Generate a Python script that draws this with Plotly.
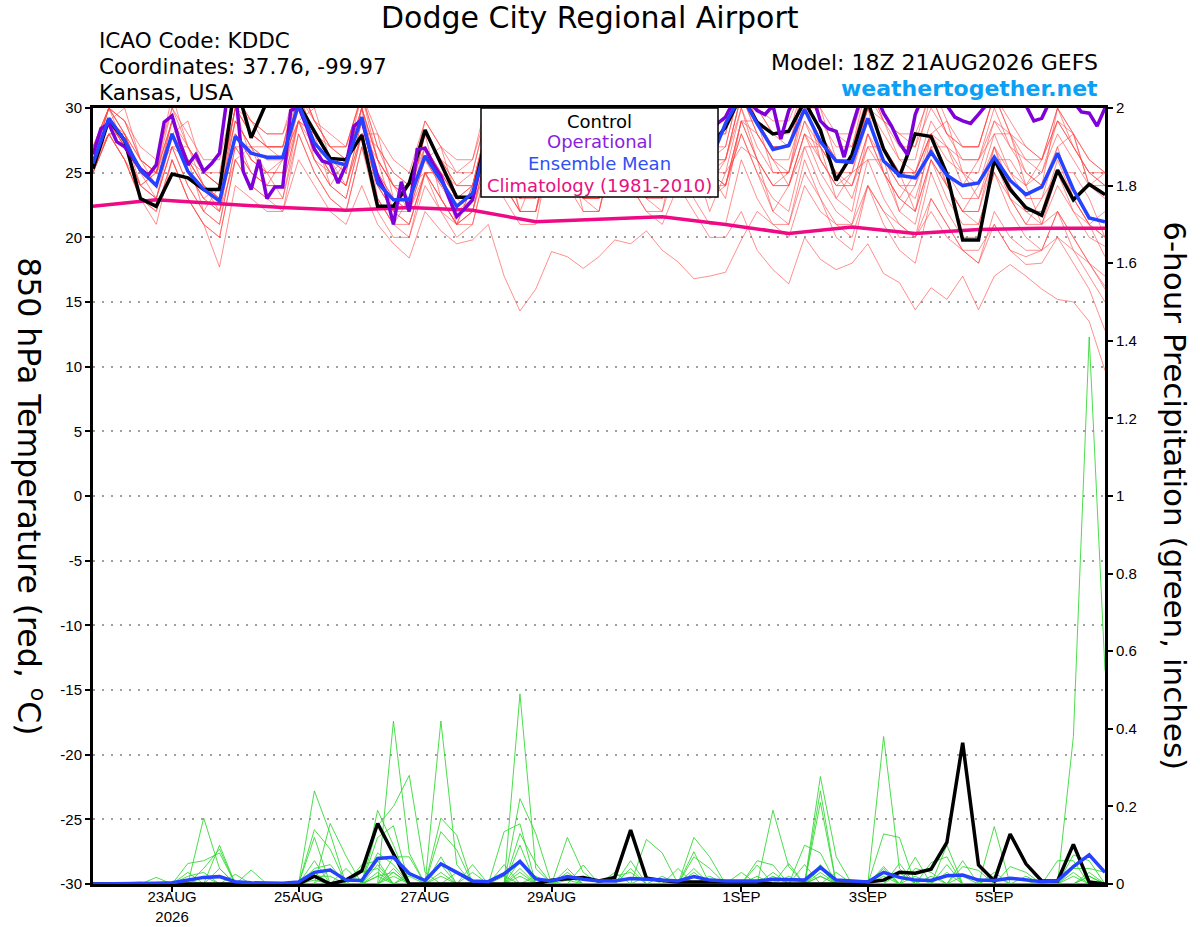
import plotly.graph_objects as go
import pandas as pd

# GEFS run 18Z 21AUG2026, 6-hourly out to 384 h
run_start = '2026-08-21 18:00'
times = pd.date_range(run_start, periods=65, freq='6h')
times_3h = pd.date_range(run_start, periods=129, freq='3h')
times_clim = pd.date_range(run_start, periods=17, freq='24h')

tick_dates = ['2026-08-23', '2026-08-25', '2026-08-27', '2026-08-29', '2026-09-01', '2026-09-03', '2026-09-05']
tick_labels = ['23AUG<br>2026', '25AUG', '27AUG', '29AUG', '1SEP', '3SEP', '5SEP']

#%% 850 hPa temperature (C)
control_t = [25.3, 29.1, 27.5, 23.0, 22.4, 24.9, 24.6, 23.7, 23.7, 32.0, 27.7, 30.5, 31.0,
             30.3, 28.2, 26.1, 26.0, 27.9, 22.4, 22.4, 24.2, 28.3, 25.7, 23.1, 23.1, 28.5,
             26.0, 25.0, 25.5, 29.5, 27.0, 26.0, 26.0, 29.0, 27.5, 26.0, 26.5, 29.5, 28.0,
             27.0, 28.5, 31.0, 28.9, 28.0, 28.2, 30.5, 28.3, 24.4, 26.4, 30.5, 26.8, 24.7,
             28.0, 27.8, 24.9, 19.8, 19.8, 26.0, 23.7, 22.3, 21.7, 25.2, 22.9, 24.1, 23.3]

mean_t = [25.7, 29.2, 27.5, 25.2, 24.0, 28.0, 25.1, 23.7, 22.8, 27.8, 26.5, 26.2, 26.2,
          30.3, 27.3, 25.9, 25.6, 29.3, 24.2, 22.9, 22.9, 26.3, 24.4, 22.4, 23.4, 27.5,
          25.5, 24.5, 24.8, 28.5, 26.5, 25.0, 25.2, 29.0, 27.0, 25.5, 25.5, 29.0, 27.0,
          25.8, 28.8, 31.0, 28.8, 26.8, 27.1, 29.9, 27.4, 25.9, 25.8, 29.2, 25.9, 24.8,
          24.6, 26.6, 24.8, 24.0, 24.2, 26.2, 24.4, 23.3, 23.9, 26.5, 23.7, 21.5, 21.2]

# operational run is 3-hourly
oper_t = [26.4, 28.4, 28.8, 27.4, 27.0, 26.1, 25.3, 24.8, 25.6, 28.9, 29.4, 27.3, 25.6, 26.4, 25.1, 25.7,
          26.5, 31.0, 31.5, 25.1, 23.7, 26.0, 23.0, 23.9, 23.9, 29.8, 30.1, 28.6, 26.8, 25.9, 25.7, 24.2,
          25.6, 28.6, 29.1, 26.8, 24.7, 23.5, 21.0, 24.3, 22.0, 26.8, 26.9, 25.7, 24.7, 23.1, 21.6, 22.2,
          22.9, 25.5, 28.0, 29.5, 29.0, 27.5, 26.0, 25.5, 25.0, 27.0, 29.5, 30.0, 29.0, 27.5, 26.5, 26.0,
          25.5, 27.5, 30.0, 30.5, 29.5, 28.0, 27.0, 26.5, 26.0, 28.0, 30.0, 30.5, 29.5, 28.5, 28.0, 28.8,
          29.3, 30.5, 31.0, 30.5, 29.8, 29.5, 30.2, 27.6, 29.8, 31.0, 31.5, 31.0, 29.0, 28.4, 28.2, 26.2,
          28.5, 30.5, 31.0, 31.0, 29.6, 28.6, 27.3, 26.4, 29.5, 31.0, 31.5, 31.0, 30.2, 29.3, 29.0, 28.8,
          29.5, 30.2, 31.0, 31.5, 31.5, 31.0, 30.2, 29.0, 29.2, 30.5, 31.0, 31.0, 30.5, 29.7, 29.6, 28.6,
          30.0]

clim_t = [22.4, 22.9, 22.6, 22.3, 22.1, 22.3, 22.1, 21.2, 21.4, 21.6, 21.0, 20.3, 20.8, 20.3, 20.6, 20.7, 20.7]

members_t = [
    [26, 30, 28, 25, 24, 29, 26, 24, 23, 29, 27, 26, 26, 31, 28, 26, 25, 30, 25, 23, 22, 27, 25, 23, 24, 29, 26, 24, 24, 30, 27, 25, 24,
     31, 28, 26, 26, 31, 28, 26, 27, 32, 29, 27, 27, 31, 28, 26, 26, 30, 27, 25, 25, 28, 26, 25, 24, 28, 25, 24, 25, 28, 26, 24, 23],
    [25, 28, 26, 23, 22, 26, 23, 21, 20, 26, 24, 23, 22, 28, 25, 23, 22, 27, 23, 21, 20, 25, 22, 21, 21, 26, 23, 21, 21, 27, 24, 22, 22,
     28, 25, 23, 22, 28, 25, 23, 24, 28, 25, 22, 21, 26, 23, 20, 19, 24, 21, 19, 18, 23, 21, 19, 18, 22, 20, 19, 19, 22, 20, 18, 17],
    [27, 30, 29, 26, 25, 31, 27, 25, 24, 30, 28, 27, 27, 32, 29, 27, 26, 31, 26, 24, 23, 28, 26, 24, 25, 30, 27, 25, 25, 31, 28, 26, 26,
     32, 29, 27, 27, 33, 30, 28, 28, 33, 30, 28, 27, 32, 29, 27, 27, 32, 29, 28, 28, 31, 28, 27, 27, 31, 28, 26, 26, 30, 27, 25, 24],
    [25.5, 28, 26, 23, 22, 26, 23, 21, 17.7, 24, 23, 22, 22, 26, 24, 22, 21, 24, 21, 19.5, 18.4, 22, 20.5, 19.5, 19.8, 21, 17, 14.3, 16,
     18.9, 18.5, 17.6, 18.5, 19.8, 19.5, 20.5, 19, 18.1, 16.8, 17, 17.3, 19.8, 22, 21, 20, 24, 22, 21, 21, 24, 22, 21, 20,
     22, 20, 19, 19, 21, 19, 18.5, 19, 20, 18, 16, 12.8],
    [26, 29, 28, 26, 25, 28, 26, 25, 24, 29, 27, 27, 27, 30, 28, 27, 26, 30, 26, 24, 24, 27, 25, 24, 24, 28, 26, 25, 25, 29, 27, 26, 26,
     30, 27, 26, 25, 29, 27, 25, 24, 29, 26, 24, 24, 28, 26, 24, 24, 28, 25, 23, 22, 26, 24, 22, 21, 25, 23, 22, 22, 26, 23, 21, 20],
    [26, 29, 27, 25, 24, 28, 25, 23, 22, 28, 26, 25, 25, 29, 27, 25, 24, 28, 24, 22, 21, 25, 23, 21, 22, 26, 24, 22, 22, 27, 25, 23, 23,
     26, 24, 22, 21, 24, 22, 20, 20, 22, 19, 17.5, 16.4, 20, 18.3, 17.5, 18, 19.5, 17.2, 16.5, 14.4, 16.1, 15.2, 17, 14.4,
     17, 17.9, 17, 16, 15.2, 15, 13.5, 9.7],
    [25, 29, 27, 24, 23, 28, 25, 23, 22, 28, 25, 24, 24, 31, 27, 25, 24, 29, 24, 22, 22, 26, 24, 22, 23, 28, 25, 23, 24, 29, 26, 24, 25,
     30, 27, 25, 25, 30, 27, 25, 26, 31, 28, 26, 26, 30, 27, 25, 25, 29, 26, 24, 23, 27, 24, 22, 22, 26, 24, 22, 22, 25, 23, 21, 18.5],
    [27, 30, 28, 26, 25, 29, 27, 25, 24, 30, 28, 27, 27, 32, 29, 27, 27, 31, 27, 25, 24, 28, 26, 25, 25, 30, 28, 26, 26, 31, 28, 27, 27,
     32, 29, 27, 27, 32, 29, 28, 28, 33, 30, 28, 28, 32, 29, 28, 27, 31, 29, 27, 27, 30, 28, 26, 26, 30, 27, 26, 25, 29, 27, 25, 25],
    [25, 28, 26, 23, 21, 26, 23, 21, 20, 26, 24, 23, 23, 28, 25, 23, 22, 27, 22, 20, 20, 24, 22, 20, 21, 26, 24, 22, 22, 28, 25, 23, 23,
     29, 26, 24, 24, 30, 27, 25, 25, 30, 27, 25, 25, 29, 27, 25, 24, 28, 26, 24, 24, 28, 25, 23, 23, 27, 25, 23, 23, 25, 22, 20, 19.3],
    [26, 29, 30, 26, 24, 28, 29, 25, 24, 30, 29, 27, 26, 29, 30, 26, 26, 28, 28, 23, 23, 26, 27, 23, 23, 25, 27, 22, 22, 26, 27, 22, 22,
     27, 28, 23, 23, 27, 28, 24, 24, 29, 29, 25, 25, 30, 30, 26, 26, 30, 29, 26, 25, 28, 29, 25, 25, 29, 28, 25, 24, 27, 28, 24, 24],
    [26, 29, 27, 24, 23, 27, 24, 22, 21, 27, 25, 24, 24, 29, 26, 24, 23, 28, 24, 22, 21, 25, 23, 21, 22, 27, 25, 23, 23, 28, 25, 23, 24,
     29, 26, 24, 24, 29, 27, 25, 24, 28, 25, 23, 22, 27, 24, 22, 21, 26, 23, 21, 20, 25, 22, 20, 20, 26, 23, 21, 21, 22, 20, 18, 16.2],
    [26, 30, 29, 26, 25, 30, 27, 25, 25, 31, 29, 28, 28, 32, 29, 27, 27, 31, 27, 25, 24, 29, 27, 25, 26, 30, 27, 26, 26, 31, 28, 27, 27,
     31, 28, 27, 27, 32, 29, 27, 27, 32, 29, 27, 27, 31, 28, 26, 26, 30, 28, 26, 26, 31, 28, 27, 27, 31, 29, 27, 26, 29, 27, 25, 24],
    [25, 28, 28, 24, 25, 27, 26, 22, 24, 27, 27, 24, 26, 29, 28, 24, 26, 28, 26, 22, 24, 25, 25, 21, 24, 26, 26, 22, 25, 27, 27, 23, 25,
     28, 27, 23, 25, 26, 26, 22, 25, 27, 26, 22, 24, 27, 27, 23, 25, 26, 26, 22, 24, 27, 27, 24, 26, 28, 28, 24, 26, 29, 28, 24, 25],
    [26, 29, 27, 25, 25, 29, 26, 24, 23, 29, 27, 26, 26, 30, 28, 26, 25, 30, 26, 24, 23, 27, 25, 23, 24, 29, 26, 24, 24, 30, 27, 25, 25,
     30, 28, 26, 26, 31, 28, 26, 26, 31, 28, 26, 25, 29, 26, 24, 24, 27, 25, 23, 22, 26, 24, 22, 22, 27, 24, 22, 21, 24, 22, 21, 20],
    [26, 28, 26, 24, 23, 27, 24, 22, 21, 27, 25, 24, 24, 29, 26, 24, 23, 28, 23, 21, 21, 25, 23, 21, 22, 27, 24, 22, 22, 28, 25, 23, 22,
     27, 24, 22, 22, 26, 23, 21, 21, 26, 23, 21, 21, 25, 23, 21, 20, 24, 22, 20, 20, 23, 21, 19, 18, 21, 19, 17.9, 18, 20, 19, 18, 16],
    [27, 30, 28, 25, 24, 29, 26, 24, 23, 30, 28, 27, 27, 31, 28, 26, 26, 30, 26, 24, 23, 28, 26, 24, 24, 29, 27, 25, 25, 30, 27, 25, 25,
     30, 27, 26, 26, 31, 28, 26, 26, 31, 29, 27, 27, 31, 28, 26, 26, 30, 27, 25, 25, 29, 27, 26, 26, 29, 27, 25, 24, 30, 28, 26, 25],
    [25, 28, 28, 25, 23, 27, 27, 24, 22, 26, 27, 25, 23, 29, 28, 26, 24, 28, 27, 24, 22, 25, 25, 23, 22, 27, 26, 24, 23, 28, 27, 25, 23,
     27, 27, 25, 23, 28, 27, 25, 23, 29, 28, 26, 24, 28, 27, 25, 23, 27, 27, 25, 22, 28, 27, 25, 23, 26, 26, 24, 21, 25, 25, 23, 20],
    [26, 30, 29, 27, 26, 30, 28, 26, 26, 31, 29, 28, 28, 31, 29, 28, 27, 31, 28, 26, 25, 29, 27, 26, 26, 31, 28, 27, 27, 32, 29, 28, 28,
     32, 30, 28, 28, 33, 30, 29, 29, 33, 30, 29, 29, 32, 30, 28, 28, 32, 29, 28, 27, 32, 29, 27, 27, 31, 28, 27, 26, 30, 28, 26, 25],
    [26, 30, 27, 24, 25, 29, 25, 23, 24, 30, 26, 25, 26, 31, 26, 25, 26, 30, 23, 21, 23, 28, 23, 21, 24, 29, 24, 23, 25, 31, 26, 24, 26,
     31, 26, 24, 26, 31, 26, 24, 26, 30, 26, 24, 25, 31, 26, 24, 25, 30, 25, 23, 25, 28, 24, 22, 24, 27, 23, 21, 23, 27, 23, 21, 22],
    [26, 29, 27, 25, 24, 28, 26, 24, 23, 28, 26, 25, 25, 30, 27, 25, 24, 29, 25, 23, 22, 26, 24, 23, 23, 28, 25, 23, 24, 28, 25, 23, 23,
     29, 26, 24, 24, 30, 27, 25, 24, 29, 26, 24, 24, 28, 25, 23, 22, 28, 25, 22, 21, 26, 23, 21, 21, 25, 22, 20, 19, 22, 19, 17, 15],
]

#%% 6-hour precipitation (inches)
control_p = [0, 0, 0, 0, 0, 0, 0, 0, 0, 0, 0, 0, 0,
             0, .02, 0, .01, .034, .156, .08, 0, 0, 0, 0, 0, 0,
             0, 0, 0, .01, .013, .017, .008, .017, .139, .015, .009, .005, .005,
             .005, .005, .005, .005, 0, 0, 0, 0, 0, 0, .005, .01, .03,
             .028, .038, .107, .364, .049, .008, .129, .052, .008, .008, .102, .005, 0]

mean_p = [0, 0, 0, 0, .002, .003, .01, .017, .019, .006, .003, .002, .002,
          .005, .03, .036, .01, .009, .066, .069, .027, .009, .052, .03, .008, .006,
          .026, .058, .013, .008, .019, .012, .008, .008, .014, .012, .009, .008, .019,
          .01, .008, .008, .008, .012, .01, .01, .043, .01, .008, .005, .03, .017,
          .01, .009, .021, .023, .01, .009, .015, .01, .006, .008, .045, .075, .03]

members_p = [
    [0, 0, 0, 0, 0, 0, 0, .17, .04, 0, 0, 0, 0,
     0, .24, .13, 0, 0, 0, .42, .08, 0, 0, 0, 0, 0,
     0, .49, .04, 0, 0, 0, 0, 0, 0, 0, 0, 0, 0,
     0, 0, 0, 0, 0, 0, 0, .05, 0, 0, 0, 0, 0,
     0, 0, 0, 0, 0, 0, 0, 0, 0, 0, .38, 1.41, .55],
    [0, 0, 0, 0, 0, 0, 0, 0, .10, 0, 0, 0, 0,
     0, .14, .09, 0, 0, .19, .10, 0, 0, .42, .05, 0, 0,
     0, 0, 0, 0, 0, 0, 0, 0, 0, .115, .08, 0, 0,
     0, 0, 0, 0, 0, 0, 0, 0, 0, 0, 0, .38, .04,
     0, 0, 0, 0, 0, 0, 0, 0, 0, 0, 0, 0, 0],
    [0, 0, 0, 0, 0, 0, .053, .06, .08, 0, 0, 0, 0,
     0, 0, 0, 0, 0, .15, .20, .28, .03, 0, 0, 0, 0,
     0, .22, .13, 0, 0, 0, 0, 0, 0, 0, 0, 0, 0,
     0, 0, 0, 0, .19, .045, 0, 0, 0, 0, 0, 0, 0,
     0, 0, 0, 0, 0, .148, 0, 0, 0, 0, 0, 0, 0],
    [0, 0, 0, 0, 0, 0, 0, .04, .09, 0, 0, 0, 0,
     0, 0, .156, .072, 0, 0, 0, 0, 0, .17, .126, 0, 0,
     0, 0, 0, 0, .12, .03, 0, 0, 0, 0, 0, 0, 0,
     0, 0, 0, 0, 0, 0, 0, .277, .07, 0, 0, 0, 0,
     0, 0, .1, 0, 0, 0, 0, 0, 0, 0, 0, 0, 0],
    [0, 0, 0, 0, 0, 0, .03, 0, 0, 0, .036, 0, 0,
     0, .12, 0, 0, 0, .12, .15, 0, 0, 0, 0, 0, 0,
     .135, .155, 0, 0, 0, 0, 0, 0, 0, 0, 0, 0, .12,
     .07, 0, 0, 0, 0, 0, 0, .24, 0, 0, 0, 0, 0,
     0, 0, 0, 0, 0, 0, 0, 0, 0, 0, .075, .06, 0],
    [0, 0, 0, 0, .017, 0, 0, 0, 0, .025, 0, 0, 0,
     0, .06, 0, .04, 0, 0, .07, .07, 0, .135, .088, 0, 0,
     0, 0, 0, 0, 0, 0, 0, 0, .06, 0, 0, 0, 0,
     0, 0, 0, 0, 0, 0, 0, .21, 0, 0, 0, .129, .12,
     0, 0, 0, 0, 0, 0, 0, 0, 0, 0, 0, 0, 0],
    [0, 0, 0, 0, 0, 0, 0, 0, 0, 0, 0, 0, 0,
     0, .04, .05, 0, 0, .08, .05, 0, 0, 0, 0, 0, 0,
     0, .13, .053, 0, 0, 0, 0, 0, 0, 0, 0, 0, .083,
     0, 0, 0, 0, 0, 0, .1, .08, 0, 0, 0, 0, 0,
     0, .055, .07, 0, 0, 0, 0, 0, 0, 0, 0, 0, 0],
    [0, 0, 0, 0, 0, 0, 0, 0, 0, 0, 0, 0, 0,
     0, 0, 0, 0, .05, .06, 0, 0, 0, .07, 0, .05, 0,
     0, .10, 0, 0, .04, 0, 0, 0, 0, 0, 0, 0, .07,
     .04, 0, 0, .06, .049, 0, 0, 0, 0, 0, 0, 0, 0,
     0, 0, 0, .06, 0, 0, 0, 0, 0, 0, 0, 0, 0],
    [0, 0, 0, 0, 0, 0, 0, 0, 0, 0, 0, 0, 0,
     0, 0, 0, 0, .03, .04, 0, .03, 0, .05, 0, .03, 0,
     0, .06, 0, 0, 0, .049, 0, 0, .04, 0, 0, 0, 0,
     0, 0, 0, .049, 0, .053, 0, 0, 0, 0, 0, .045, 0,
     .069, 0, 0, 0, 0, 0, 0, 0, 0, .06, .06, 0, 0],
    [0, 0, 0, 0, 0, 0, 0, 0, 0, 0, 0, 0, 0,
     0, 0, 0, 0, 0, .03, 0, 0, 0, 0, 0, 0, 0,
     .05, 0, 0, 0, .03, 0, 0, .03, 0, 0, 0, .04, 0,
     0, 0, .03, 0, 0, 0, .05, 0, 0, 0, 0, 0, .053,
     0, 0, .05, 0, 0, .03, 0, 0, 0, 0, .04, .04, .03],
    [0, 0, 0, 0, 0, 0, 0, 0, .04, 0, 0, 0, 0,
     0, 0, 0, 0, 0, 0, .03, 0, 0, 0, 0, 0, 0,
     0, 0, 0, 0, 0, 0, 0, .02, .03, 0, 0, 0, 0,
     0, 0, 0, 0, .03, 0, 0, 0, .03, 0, 0, 0, 0,
     .04, .03, 0, .045, .035, 0, .045, .03, 0, 0, 0, .03, 0],
    [0, 0, .003, .005, 0, 0, .01, 0, 0, 0, 0, 0, 0,
     0, .02, .02, 0, 0, .02, 0, 0, 0, .02, 0, 0, 0,
     0, .03, 0, 0, 0, 0, 0, 0, 0, 0, .02, 0, .04,
     0, 0, 0, 0, 0, 0, 0, .04, 0, 0, 0, .04, 0,
     0, 0, 0, 0, 0, 0, 0, .02, 0, 0, 0, 0, 0],
    [0, 0, 0, 0, 0, 0, .02, .03, 0, 0, 0, 0, 0,
     0, .03, 0, 0, 0, 0, .04, 0, 0, 0, .03, 0, 0,
     0, 0, .02, 0, 0, 0, 0, 0, 0, 0, 0, 0, 0,
     .02, 0, 0, 0, .02, 0, 0, .03, 0, 0, 0, .02, 0,
     0, 0, .03, 0, 0, 0, 0, 0, 0, 0, .02, 0, 0],
    [0, 0, 0, 0, 0, 0, 0, .02, 0, 0, 0, 0, 0,
     0, 0, .04, 0, 0, .05, 0, .02, 0, 0, 0, 0, 0,
     0, .04, 0, 0, .02, 0, 0, 0, 0, 0, 0, 0, 0,
     0, 0, 0, .02, 0, 0, 0, .02, 0, 0, 0, 0, .03,
     0, 0, 0, .02, 0, 0, 0, 0, 0, 0, 0, .02, 0],
    [0, 0, 0, 0, 0, 0, 0, 0, 0, 0, 0, 0, 0,
     0, 0, 0, 0, 0, .02, .03, 0, 0, .03, 0, 0, 0,
     0, .02, 0, 0, 0, 0, 0, 0, 0, .02, 0, 0, 0,
     0, 0, 0, 0, 0, .02, 0, 0, 0, 0, 0, .03, 0,
     0, .02, 0, 0, 0, .02, 0, 0, 0, 0, .03, 0, 0],
    [0, 0, 0, 0, 0, 0, 0, 0, 0, 0, 0, 0, 0,
     0, .01, 0, 0, 0, 0, .02, 0, 0, 0, 0, 0, 0,
     .02, 0, 0, 0, .01, 0, 0, 0, 0, 0, 0, 0, .03,
     0, 0, 0, 0, 0, 0, 0, .02, 0, 0, 0, 0, 0,
     .02, 0, 0, 0, 0, 0, 0, 0, .01, 0, 0, .02, 0],
]

#%%
FONT = 'Liberation Sans, Arial, sans-serif'
HEAD = 'DejaVu Sans, Verdana, sans-serif'
RED = 'rgba(255, 70, 70, 0.6)'
GREEN = 'rgba(45, 215, 45, 0.85)'
BLACK = '#000000'
PURPLE = '#7f00d9'
BLUE = '#2442ff'
PINK = '#ee0a84'

fig = go.Figure()

for member in members_t:
    fig.add_trace(go.Scatter(x=times, y=member, mode='lines', line=dict(color=RED, width=1), hoverinfo='skip'))

fig.add_trace(go.Scatter(x=times_clim, y=clim_t, mode='lines', line=dict(color=PINK, width=3.5)))
fig.add_trace(go.Scatter(x=times, y=control_t, mode='lines', line=dict(color=BLACK, width=3.5)))
fig.add_trace(go.Scatter(x=times_3h, y=oper_t, mode='lines', line=dict(color=PURPLE, width=3.5)))
fig.add_trace(go.Scatter(x=times, y=mean_t, mode='lines', line=dict(color=BLUE, width=3.5)))

for member in members_p:
    fig.add_trace(go.Scatter(x=times, y=member, yaxis='y2', mode='lines', line=dict(color=GREEN, width=1), hoverinfo='skip'))

fig.add_trace(go.Scatter(x=times, y=control_p, yaxis='y2', mode='lines', line=dict(color=BLACK, width=3.5)))
fig.add_trace(go.Scatter(x=times, y=mean_p, yaxis='y2', mode='lines', line=dict(color=BLUE, width=3.5)))

temp_ticks = list(range(-30, 31, 5))
precip_ticks = [0, 0.2, 0.4, 0.6, 0.8, 1, 1.2, 1.4, 1.6, 1.8, 2]

fig.update_layout(
    width=1200, height=927, autosize=False,
    margin={'l': 93, 'r': 95, 't': 108, 'b': 43},
    paper_bgcolor='white', plot_bgcolor='white',
    showlegend=False,
    font=dict(family=FONT, size=15, color='black'),
    xaxis=dict(type='date', range=[times[0], times[-1]], automargin=False,
               tickvals=tick_dates, ticktext=tick_labels, ticklabelstandoff=-8,
               ticks='outside', ticklen=5, tickwidth=1.5, tickcolor='black',
               showline=True, linewidth=3, linecolor='black', mirror=True,
               showgrid=False, zeroline=False, tickfont=dict(size=15)),
    yaxis=dict(range=[-30, 30], tickvals=temp_ticks, ticktext=[str(t) for t in temp_ticks], automargin=False,
               ticks='outside', ticklen=5, tickwidth=1.5, tickcolor='black',
               showline=True, linewidth=3, linecolor='black',
               showgrid=True, gridcolor='#a0a0a0', griddash='2px,7px', gridwidth=1.5,
               zeroline=False, tickfont=dict(size=15)),
    yaxis2=dict(range=[0, 2], overlaying='y', side='right', automargin=False,
                tickvals=precip_ticks, ticktext=['0', '0.2', '0.4', '0.6', '0.8', '1', '1.2', '1.4', '1.6', '1.8', '2'],
                ticks='outside', ticklen=5, tickwidth=1.5, tickcolor='black',
                showline=True, linewidth=3, linecolor='black',
                showgrid=False, zeroline=False, tickfont=dict(size=15)),
)

# legend box inside the top of the plot
fig.add_shape(type='rect', xref='paper', yref='paper', x0=0.3834, x1=0.6176, y0=0.8853, y1=1.0,
              fillcolor='white', line=dict(color='black', width=1.5), layer='above')

legend_items = [('Control', BLACK, 0.9830), ('Operational', '#8a1ee0', 0.9562),
                ('Ensemble Mean', '#3050f5', 0.9291), ('Climatology (1981-2010)', '#e8107f', 0.9007)]
for text, color, ypos in legend_items:
    fig.add_annotation(text=text, xref='paper', yref='paper', x=0.5005, y=ypos,
                       xanchor='center', yanchor='middle', showarrow=False,
                       font=dict(size=18, color=color, family=HEAD))

fig.add_annotation(text='Dodge City Regional Airport', xref='paper', yref='paper', x=0.4915, y=1.116,
                   xanchor='center', yanchor='middle', showarrow=False, font=dict(size=30, family=HEAD))
for text, ypos in [('ICAO Code: KDDC', 1.0876), ('Coordinates: 37.76, -99.97', 1.054), ('Kansas, USA', 1.0206)]:
    fig.add_annotation(text=text, xref='paper', yref='paper', x=0.004, y=ypos,
                       xanchor='left', yanchor='middle', showarrow=False, font=dict(size=21.5, family=HEAD))
fig.add_annotation(text='Model: 18Z 21AUG2026 GEFS', xref='paper', yref='paper', x=0.995, y=1.058,
                   xanchor='right', yanchor='middle', showarrow=False, font=dict(size=22, family=HEAD))
fig.add_annotation(text='<b>weathertogether.net</b>', xref='paper', yref='paper', x=0.995, y=1.0245,
                   xanchor='right', yanchor='middle', showarrow=False,
                   font=dict(size=22, family=HEAD, color='#0aa0f5'))

fig.add_annotation(text='850 hPa Temperature (red, <sup>o</sup>C)', xref='paper', yref='paper',
                   x=-0.0615, y=0.5, xanchor='center', yanchor='middle', textangle=90, showarrow=False,
                   font=dict(size=31.5, family=HEAD))
fig.add_annotation(text='6-hour Precipitation (green, inches)', xref='paper', yref='paper',
                   x=1.069, y=0.5, xanchor='center', yanchor='middle', textangle=90, showarrow=False,
                   font=dict(size=31, family=HEAD))

fig.write_html("out.html", config={'displayModeBar': False},
               post_script="document.body.style.margin='0';")
